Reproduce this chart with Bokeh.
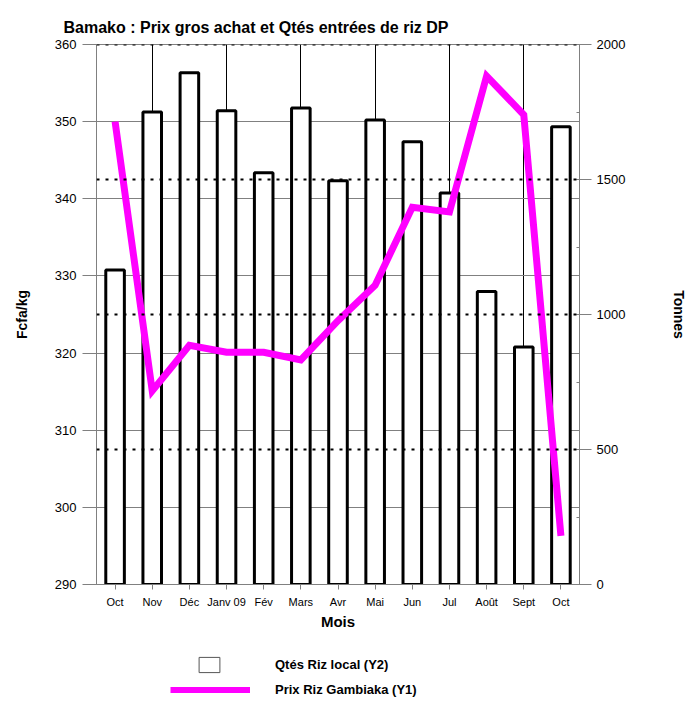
from bokeh.plotting import figure
from bokeh.layouts import column
from bokeh.models import (Range1d, LinearAxis, FixedTicker, SingleIntervalTicker,
                          Span, Legend, LegendItem, Title)
from bokeh.embed import file_html
from bokeh.resources import INLINE

# ---- data ----
months = ["Oct", "Nov", "Déc", "Janv 09", "Fév", "Mars", "Avr", "Mai",
          "Jun", "Jul", "Août", "Sept", "Oct"]
qty_local = [1165, 1750, 1895, 1755, 1525, 1765, 1495, 1720, 1640, 1450, 1085, 880, 1695]
price_gambiaka = [350.0, 315.1, 321.0, 320.1, 320.1, 319.1, 324.2, 328.8, 338.9, 338.3, 355.9, 350.9, 296.3]
left_ticks = [290, 300, 310, 320, 330, 340, 350, 360]
right_ticks = [0, 500, 1000, 1500, 2000]
title_text = "Bamako : Prix  gros achat et Qtés entrées  de riz DP"
legend_bar = "Qtés Riz local (Y2)"
legend_line = "Prix Riz Gambiaka (Y1)"

x = list(range(1, len(months) + 1))
FONT = "Liberation Sans"
GRAY = "#808080"
MAGENTA = "#FF00FF"
NAN = float("nan")

p = figure(width=690, height=640, output_backend="svg", toolbar_location=None,
           x_range=Range1d(0.5, len(months) + 0.5),
           y_range=Range1d(left_ticks[0], left_ticks[-1]),
           min_border_left=96, min_border_top=44, min_border_right=107,
           min_border_bottom=56)
p.extra_y_ranges = {"y2": Range1d(right_ticks[0], right_ticks[-1])}
p.background_fill_color = "white"
p.border_fill_color = "white"
p.outline_line_color = GRAY

# title
p.title = Title(text=title_text, align="left", offset=-33, standoff=14,
                vertical_align="top",
                text_font=FONT, text_font_style="bold", text_font_size="16px",
                text_color="black")

# grids
p.ygrid.ticker = FixedTicker(ticks=left_ticks)
p.ygrid.grid_line_color = GRAY
p.ygrid.grid_line_width = 1
p.xgrid.ticker = FixedTicker(ticks=x[1::2])
p.xgrid.grid_line_color = "black"
p.xgrid.grid_line_width = 1
for v in right_ticks[1:]:
    p.add_layout(Span(location=v, dimension="width", y_range_name="y2",
                      line_color="black", line_width=2, line_dash="3 6"))

# left axis
ya = p.yaxis[0]
ya.ticker = FixedTicker(ticks=left_ticks)
ya.axis_label = "Fcfa/kg"
ya.axis_label_text_font = FONT
ya.axis_label_text_font_style = "bold"
ya.axis_label_text_font_size = "14px"
ya.axis_label_text_color = "black"
ya.axis_label_standoff = 22
ya.major_label_text_font = FONT
ya.major_label_text_font_size = "13px"
ya.major_label_text_color = "black"
ya.major_tick_out = 14
ya.major_tick_in = 0
ya.minor_tick_out = 0
ya.minor_tick_in = 0
ya.major_label_standoff = 6
ya.axis_line_color = GRAY
ya.major_tick_line_color = GRAY

# right axis
ra = LinearAxis(y_range_name="y2", ticker=SingleIntervalTicker(interval=500, num_minor_ticks=2))
ra.axis_label = "Tonnes"
ra.axis_label_text_font = FONT
ra.axis_label_text_font_style = "bold"
ra.axis_label_text_font_size = "14px"
ra.axis_label_text_color = "black"
ra.axis_label_standoff = 43
ra.major_label_text_font = FONT
ra.major_label_text_font_size = "13px"
ra.major_label_text_color = "black"
ra.major_tick_out = 12
ra.major_tick_in = 3
ra.minor_tick_out = 0
ra.minor_tick_in = 3
ra.major_label_standoff = 5
ra.axis_line_color = GRAY
ra.major_tick_line_color = GRAY
ra.minor_tick_line_color = GRAY
p.add_layout(ra, "right")

# x axis
xa = p.xaxis[0]
xa.ticker = FixedTicker(ticks=x)
xa.major_label_overrides = {i: m for i, m in zip(x, months)}
xa.major_label_text_font = FONT
xa.major_label_text_font_size = "11px"
xa.major_label_text_color = "black"
xa.major_tick_out = 5
xa.major_tick_in = 0
xa.minor_tick_out = 0
xa.minor_tick_in = 0
xa.major_label_standoff = 6
xa.axis_line_color = GRAY
xa.major_tick_line_color = GRAY
xa.axis_label = "Mois"
xa.axis_label_text_font = FONT
xa.axis_label_text_font_style = "bold"
xa.axis_label_text_font_size = "15px"
xa.axis_label_text_color = "black"
xa.axis_label_standoff = 2

# bars and line
p.vbar(x=x, top=qty_local, bottom=0, width=0.5, y_range_name="y2",
       fill_color="white", line_color="black", line_width=3)
p.line(x, price_gambiaka, line_color=MAGENTA, line_width=7, line_join="miter")

# ---- legend strip (separate figure, keys only; its frame aligns with the main frame) ----
lf = figure(width=690, height=60, output_backend="svg", toolbar_location=None,
            x_axis_type=None, y_axis_type=None, min_border=0,
            x_range=Range1d(0, 1), y_range=Range1d(0, 1))
lf.outline_line_color = None
lf.grid.visible = False
lf.background_fill_color = "white"
lf.border_fill_color = "white"
key_bar = lf.vbar(x=[NAN], top=[NAN], bottom=0, width=0.5,
                  fill_color="white", line_color="#555555", line_width=1)
key_line = lf.line(x=[NAN], y=[NAN], line_color=MAGENTA, line_width=6)

def make_legend(label, rend, gw, gh, standoff, loc):
    return Legend(items=[LegendItem(label=label, renderers=[rend])],
                  location=loc, orientation="vertical",
                  glyph_width=gw, glyph_height=gh, label_standoff=standoff,
                  padding=0, spacing=0, margin=0,
                  border_line_alpha=0, background_fill_alpha=0,
                  label_text_font=FONT, label_text_font_style="bold",
                  label_text_font_size="13px", label_text_color="black",
                  label_height=gh, click_policy="none")

lf.add_layout(make_legend(legend_bar, key_bar, 26, 19, 53, (100, 26)))
lf.add_layout(make_legend(legend_line, key_line, 80, 13, 25, (74, 3)))

open("out.html", "w").write(file_html(column(p, lf), INLINE))
